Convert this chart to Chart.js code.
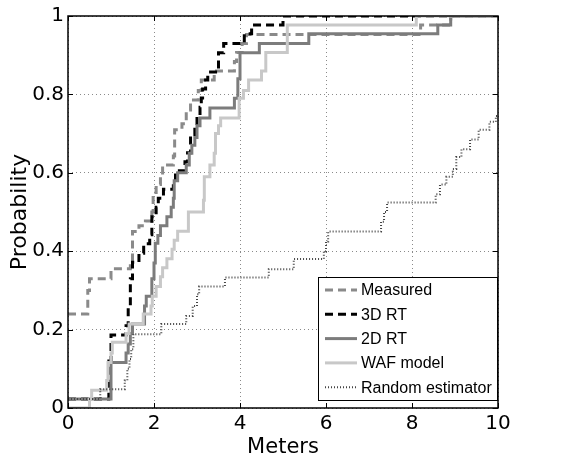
<!DOCTYPE html>
<html>
<head>
<meta charset="UTF-8">
<title>Localization error CDF</title>
<script src="https://cdn.jsdelivr.net/npm/chart.js@4.4.1/dist/chart.umd.min.js"></script>
<style>
  html, body { margin: 0; padding: 0; background: #fff; }
</style>
</head>
<body>
<canvas id="chart" width="567" height="460"></canvas>
<script>
// axis ticks
const xTicks = [0, 2, 4, 6, 8, 10];
const xTickLabels = ['0', '2', '4', '6', '8', '10'];
const yTicks = [0, 0.2, 0.4, 0.6, 0.8, 1];
const yTickLabels = ['0', '0.2', '0.4', '0.6', '0.8', '1'];

// step points of each CDF (x = meters where the step happens, y = value after the step)
const measuredX = [0, 0.46, 0.5, 1.0, 1.45, 1.5, 1.65, 1.8, 1.95, 1.98, 2.05, 2.15, 2.2, 2.45, 2.48, 2.65, 2.75, 2.85, 3.03, 3.1, 3.4, 3.87, 3.92, 4.05, 4.15, 8.2, 8.9, 10];
const measuredY = [0.24, 0.3, 0.33, 0.355, 0.374, 0.45, 0.465, 0.477, 0.5, 0.55, 0.57, 0.59, 0.62, 0.643, 0.71, 0.725, 0.76, 0.786, 0.81, 0.837, 0.86, 0.884, 0.907, 0.93, 0.953, 0.977, 1, 1];

const rt3dX = [0, 0.95, 1.0, 1.35, 1.4, 1.45, 1.5, 1.65, 1.76, 1.9, 1.95, 2.05, 2.1, 2.22, 2.45, 2.5, 2.72, 2.78, 2.85, 2.95, 3.0, 3.07, 3.1, 3.13, 3.2, 3.25, 3.5, 3.62, 4.1, 4.27, 5.0, 10];
const rt3dY = [0.023, 0.12, 0.186, 0.21, 0.256, 0.33, 0.372, 0.395, 0.419, 0.442, 0.488, 0.512, 0.535, 0.558, 0.581, 0.605, 0.628, 0.651, 0.698, 0.721, 0.744, 0.767, 0.791, 0.814, 0.837, 0.857, 0.906, 0.93, 0.955, 0.977, 1, 1];

const rt2dX = [0, 1.0, 1.35, 1.4, 1.45, 1.5, 1.78, 1.82, 1.95, 2.0, 2.03, 2.09, 2.15, 2.3, 2.4, 2.45, 2.47, 2.55, 2.75, 2.82, 2.88, 2.95, 3.0, 3.07, 3.3, 3.87, 3.95, 4.0, 4.45, 5.6, 8.6, 8.9, 10];
const rt2dY = [0.023, 0.116, 0.14, 0.163, 0.19, 0.214, 0.26, 0.285, 0.33, 0.37, 0.42, 0.44, 0.465, 0.488, 0.512, 0.535, 0.58, 0.6, 0.62, 0.65, 0.67, 0.69, 0.72, 0.74, 0.765, 0.79, 0.84, 0.906, 0.93, 0.955, 0.977, 1, 1];

const wafX = [0, 0.5, 0.55, 0.9, 0.93, 1.0, 1.03, 1.35, 1.42, 1.75, 1.93, 1.96, 2.05, 2.15, 2.2, 2.3, 2.42, 2.47, 2.55, 2.8, 3.15, 3.17, 3.3, 3.4, 3.43, 3.5, 3.55, 3.98, 4.08, 4.2, 4.5, 4.6, 5.1, 8.1, 10];
const wafY = [0, 0.023, 0.045, 0.07, 0.116, 0.14, 0.168, 0.19, 0.214, 0.24, 0.26, 0.285, 0.31, 0.335, 0.358, 0.381, 0.405, 0.428, 0.451, 0.5, 0.53, 0.59, 0.62, 0.65, 0.7, 0.72, 0.74, 0.79, 0.81, 0.837, 0.86, 0.907, 0.977, 1, 1];

const randX = [0, 0.75, 1.32, 1.38, 1.43, 1.47, 1.52, 2.17, 2.75, 2.9, 3.0, 3.05, 3.65, 4.67, 5.25, 5.95, 6.0, 6.05, 7.28, 7.35, 7.42, 8.55, 8.65, 8.8, 8.95, 9.03, 9.15, 9.35, 9.55, 9.8, 9.95, 10];
const randY = [0.023, 0.048, 0.07, 0.1, 0.125, 0.15, 0.188, 0.214, 0.235, 0.26, 0.29, 0.31, 0.333, 0.354, 0.38, 0.4, 0.425, 0.45, 0.475, 0.5, 0.524, 0.545, 0.57, 0.59, 0.61, 0.64, 0.66, 0.685, 0.71, 0.73, 0.745, 0.745];

const pts = (xs, ys) => xs.map((x, i) => ({x: x, y: ys[i]}));

function series(label, xs, ys, color, width, dash, order) {
  return {
    label: label,
    data: pts(xs, ys),
    borderColor: color,
    borderWidth: width,
    borderDash: dash,
    stepped: true,
    pointRadius: 0,
    fill: false,
    order: order
  };
}

const FONT = 'DejaVu Sans';
const LEGEND_FONT = 'Liberation Sans';

// black frame with inward ticks, like the matlab axes box
const boxPlugin = {
  id: 'box',
  afterDatasetsDraw(chart) {
    const {ctx, chartArea: a, scales: {x, y}} = chart;
    ctx.save();
    ctx.strokeStyle = '#000';
    ctx.lineWidth = 1.5;
    ctx.strokeRect(a.left, a.top, a.right - a.left, a.bottom - a.top);
    ctx.lineWidth = 1;
    ctx.beginPath();
    for (const v of xTicks) {
      const px = Math.round(x.getPixelForValue(v)) + 0.5;
      ctx.moveTo(px, a.bottom); ctx.lineTo(px, a.bottom - 5);
      ctx.moveTo(px, a.top); ctx.lineTo(px, a.top + 5);
    }
    for (const v of yTicks) {
      const py = Math.round(y.getPixelForValue(v)) + 0.5;
      ctx.moveTo(a.left, py); ctx.lineTo(a.left + 5, py);
      ctx.moveTo(a.right, py); ctx.lineTo(a.right - 5, py);
    }
    ctx.stroke();
    ctx.restore();
  }
};

// legend box in the lower right corner of the plot
const legendPlugin = {
  id: 'boxLegend',
  afterDraw(chart) {
    const {ctx, chartArea: a} = chart;
    const w = 179, h = 123;
    const left = Math.round(a.right - 1 - w), top = Math.round(a.bottom - 8 - h);
    ctx.save();
    ctx.fillStyle = '#fff';
    ctx.fillRect(left, top, w, h);
    ctx.strokeStyle = '#000';
    ctx.lineWidth = 1;
    ctx.strokeRect(left + 0.5, top + 0.5, w, h);
    ctx.font = '16px "' + LEGEND_FONT + '"';
    ctx.textBaseline = 'middle';
    chart.data.datasets.forEach((ds, i) => {
      const yy = top + 13 + i * 24.3;
      ctx.save();
      ctx.strokeStyle = ds.borderColor;
      ctx.lineWidth = ds.borderWidth;
      ctx.setLineDash(ds.borderDash || []);
      ctx.beginPath();
      ctx.moveTo(left + 7, yy);
      ctx.lineTo(left + 39, yy);
      ctx.stroke();
      ctx.restore();
      ctx.fillStyle = '#000';
      ctx.fillText(ds.label, left + 43, yy + 1);
    });
    ctx.restore();
  }
};

new Chart(document.getElementById('chart'), {
  type: 'line',
  data: {
    datasets: [
      series('Measured', measuredX, measuredY, '#8a8a8a', 3, [8, 5], 5),
      series('3D RT', rt3dX, rt3dY, '#000000', 3, [8, 5], 4),
      series('2D RT', rt2dX, rt2dY, '#7c7c7c', 3, [], 3),
      series('WAF model', wafX, wafY, '#c8c8c8', 3, [], 2),
      series('Random estimator', randX, randY, '#444444', 2, [1, 2], 1)
    ]
  },
  options: {
    responsive: false,
    animation: false,
    layout: { padding: { left: 0, top: 15, right: 69, bottom: 0 } },
    plugins: { legend: { display: false }, tooltip: { enabled: false } },
    scales: {
      x: {
        type: 'linear',
        min: 0, max: 10,
        afterFit: s => { s.height = 52; },
        afterBuildTicks: s => { s.ticks = xTicks.map(v => ({value: v})); },
        ticks: {
          color: '#000', padding: 4, maxRotation: 0,
          font: { family: FONT, size: 20 },
          callback: (v, i) => xTickLabels[i]
        },
        grid: { color: '#8a8a8a', lineWidth: 1, drawTicks: false },
        border: { display: false, dash: [1, 3] },
        title: {
          display: true, text: 'Meters', color: '#000',
          font: { family: FONT, size: 21 },
          padding: { top: -4, bottom: 0 }
        }
      },
      y: {
        type: 'linear',
        min: 0, max: 1,
        afterFit: s => { s.width = 68; },
        afterBuildTicks: s => { s.ticks = yTicks.map(v => ({value: v})); },
        ticks: {
          color: '#000', padding: 4,
          font: { family: FONT, size: 20 },
          callback: (v, i) => yTickLabels[i]
        },
        grid: { color: '#8a8a8a', lineWidth: 1, drawTicks: false },
        border: { display: false, dash: [1, 3] },
        title: {
          display: true, text: 'Probability', color: '#000',
          font: { family: FONT, size: 22 },
          padding: { top: 7, bottom: 0 }
        }
      }
    }
  },
  plugins: [boxPlugin, legendPlugin]
});
</script>
</body>
</html>
